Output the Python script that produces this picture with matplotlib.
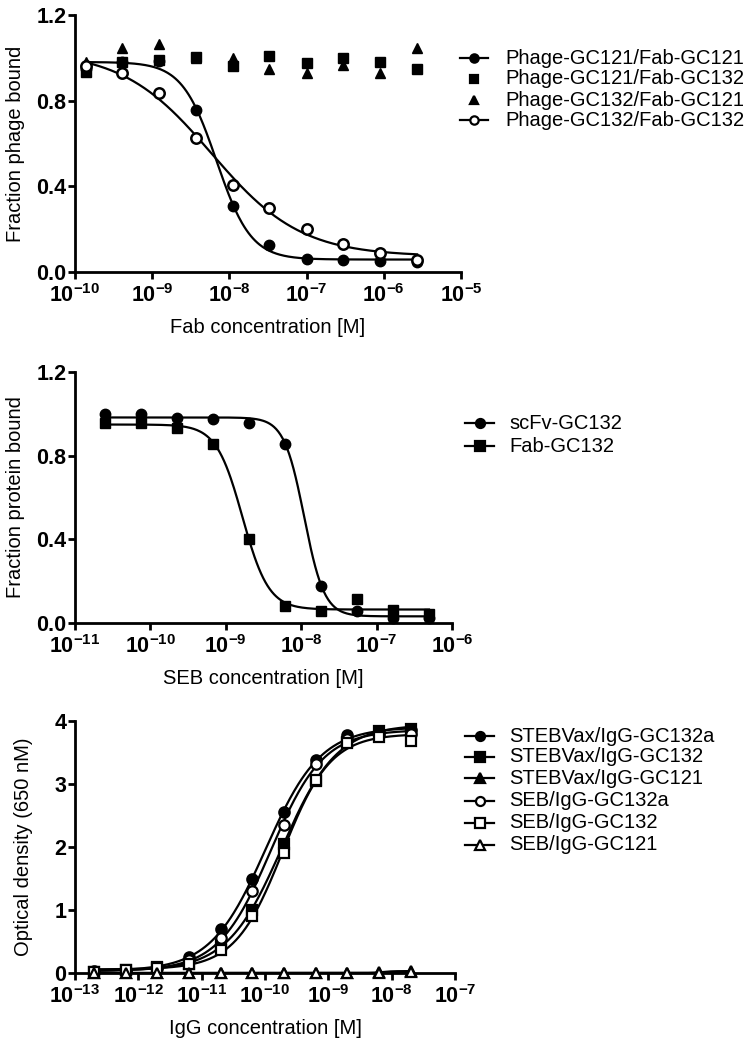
import numpy as np
import matplotlib
matplotlib.use('Agg')
import matplotlib.pyplot as plt
from matplotlib.ticker import FixedLocator, FuncFormatter, NullLocator
from matplotlib.lines import Line2D

plt.rcParams['font.family'] = ['Liberation Sans', 'DejaVu Sans']
plt.rcParams['mathtext.fontset'] = 'custom'
plt.rcParams['mathtext.rm'] = 'Liberation Sans:bold'
plt.rcParams['mathtext.bf'] = 'Liberation Sans:bold'
plt.rcParams['mathtext.default'] = 'regular'

# ---------------- data ----------------
# Panel A: phage competition
fab_conc = [1.37e-10, 4.1e-10, 1.23e-9, 3.7e-9, 1.1e-8, 3.3e-8, 1.0e-7, 3.0e-7, 9.0e-7, 2.7e-6]
p121_f121 = [0.95, 0.98, 0.985, 0.756, 0.31, 0.128, 0.062, 0.055, 0.052, 0.048]
p121_f132 = [0.935, 0.98, 0.99, 1.005, 0.96, 1.01, 0.977, 0.997, 0.98, 0.946]
p132_f121 = [0.98, 1.047, 1.064, 1.0, 1.0, 0.95, 0.93, 0.966, 0.927, 1.047]
p132_f132 = [0.96, 0.927, 0.837, 0.626, 0.405, 0.30, 0.20, 0.132, 0.09, 0.058]
labels_a = ['Phage-GC121/Fab-GC121', 'Phage-GC121/Fab-GC132',
            'Phage-GC132/Fab-GC121', 'Phage-GC132/Fab-GC132']

# Panel B: SEB competition
seb_conc = [2.5e-11, 7.5e-11, 2.26e-10, 6.8e-10, 2.04e-9, 6.1e-9, 1.83e-8, 5.5e-8, 1.65e-7, 4.95e-7]
scfv_gc132 = [0.998, 1.0, 0.98, 0.976, 0.957, 0.858, 0.178, 0.056, 0.024, 0.025]
fab_gc132 = [0.957, 0.958, 0.933, 0.854, 0.40, 0.08, 0.056, 0.115, 0.06, 0.045]
labels_b = ['scFv-GC132', 'Fab-GC132']

# Panel C: ELISA
igg_conc = [2e-13, 6.3e-13, 2e-12, 6.3e-12, 2e-11, 6.3e-11, 2e-10, 6.3e-10, 2e-9, 6.3e-9, 2e-8]
steb_132a = [0.03, 0.05, 0.10, 0.25, 0.70, 1.50, 2.56, 3.38, 3.77, 3.82, 3.85]
steb_132 = [0.02, 0.05, 0.10, 0.15, 0.45, 1.00, 2.05, 3.05, 3.66, 3.84, 3.87]
steb_121 = [0.0, 0.0, 0.0, 0.0, 0.0, 0.0, 0.0, 0.0, 0.0, 0.01, 0.03]
seb_132a = [0.02, 0.05, 0.08, 0.20, 0.55, 1.30, 2.35, 3.32, 3.72, 3.78, 3.80]
seb_132 = [0.02, 0.04, 0.08, 0.15, 0.37, 0.90, 1.91, 3.06, 3.65, 3.75, 3.69]
seb_121 = [0.0, 0.0, 0.0, 0.0, 0.0, 0.0, 0.0, 0.0, 0.0, 0.0, 0.02]
labels_c = ['STEBVax/IgG-GC132a', 'STEBVax/IgG-GC132', 'STEBVax/IgG-GC121',
            'SEB/IgG-GC132a', 'SEB/IgG-GC132', 'SEB/IgG-GC121']


def fit_curve(x, y, npts=300):
    """Least-squares 4-parameter logistic fit (grid over log EC50 and slope)."""
    x = np.asarray(x, float)
    y = np.asarray(y, float)
    lx = np.log10(x)
    cs = np.linspace(lx.min() - 1, lx.max() + 1, 601)[:, None, None]
    hs = np.linspace(0.3, 6.0, 115)[None, :, None]
    f = 1.0 / (1.0 + 10 ** ((lx[None, None, :] - cs) * hs))
    n = len(x)
    Sf = f.sum(-1); Sff = (f * f).sum(-1); Sy = y.sum(); Sfy = (f * y).sum(-1)
    den = n * Sff - Sf ** 2
    den = np.where(np.abs(den) < 1e-12, 1e-12, den)
    b = (n * Sfy - Sf * Sy) / den
    a = (Sy - b * Sf) / n
    res = ((y - a[..., None] - b[..., None] * f) ** 2).sum(-1)
    i, j = np.unravel_index(np.argmin(res), res.shape)
    c, h = cs[i, 0, 0], hs[0, j, 0]
    xs = np.logspace(lx.min(), lx.max(), npts)
    ys = a[i, j] + b[i, j] / (1.0 + 10 ** ((np.log10(xs) - c) * h))
    return xs, ys


W, H = 755, 1047
fig = plt.figure(figsize=(W / 100, H / 100), dpi=100)


def ax_rect(l, r, t, b):
    return [l / W, 1 - b / H, (r - l) / W, (b - t) / H]


TICK_FS = 15.5
LABEL_FS = 14.5
LEG_FS = 14.5
LW = 1.6


def style_axis(ax, xlim, ylim, yticks, yfmt, xlabel, ylabel, ylab_right_px, width_px):
    ax.set_xscale('log')
    ax.set_xlim(*xlim)
    ax.set_ylim(*ylim)
    for s in ['top', 'right']:
        ax.spines[s].set_visible(False)
    for s in ['left', 'bottom']:
        ax.spines[s].set_linewidth(2.0)
    dec = np.arange(round(np.log10(xlim[0])), round(np.log10(xlim[1])) + 1)
    ax.xaxis.set_major_locator(FixedLocator(10.0 ** dec))
    ax.xaxis.set_minor_locator(NullLocator())
    ax.xaxis.set_major_formatter(FuncFormatter(lambda v, p: r'$10^{%d}$' % round(np.log10(v))))
    ax.yaxis.set_major_locator(FixedLocator(yticks))
    ax.yaxis.set_major_formatter(FuncFormatter(lambda v, p: yfmt % v))
    ax.tick_params(axis='both', which='major', direction='out', length=4.8, width=2,
                   labelsize=TICK_FS)
    ax.tick_params(axis='x', pad=4)
    ax.tick_params(axis='y', pad=1.5)
    for lab in ax.get_xticklabels() + ax.get_yticklabels():
        lab.set_fontweight('bold')
    ax.set_xlabel(xlabel, fontsize=LABEL_FS, labelpad=8)
    ax.set_ylabel(ylabel, fontsize=LABEL_FS)
    ax.yaxis.set_label_coords((ylab_right_px - 75) / width_px, 0.5)


def legend_manual(entries, labels, x0, x1, xt, ys):
    """entries: list of (marker, facecolor, with_line, size). Coordinates in pixels."""
    for (mk, mfc, wl, ms), lab, yp in zip(entries, labels, ys):
        yf = 1 - yp / H
        if wl:
            fig.add_artist(Line2D([x0 / W, x1 / W], [yf, yf], color='black', lw=LW,
                                  transform=fig.transFigure))
        fig.add_artist(Line2D([(x0 + x1) / 2 / W], [yf], marker=mk, ms=ms, mfc=mfc,
                              mec='black', mew=1.6, lw=0, transform=fig.transFigure))
        fig.text(xt / W, yf, lab, fontsize=LEG_FS, va='center', ha='left')


# ---------------- Panel A ----------------
axA = fig.add_axes(ax_rect(75, 461, 15, 272))
ms = 7.5
for y in [p121_f121, p132_f132]:
    xs, ys = fit_curve(fab_conc, y)
    axA.plot(xs, ys, color='black', lw=LW, zorder=2)
axA.plot(fab_conc, p121_f121, 'o', ms=ms, mfc='black', mec='black', clip_on=False, zorder=3)
axA.plot(fab_conc, p121_f132, 's', ms=ms, mfc='black', mec='black', clip_on=False, zorder=3)
axA.plot(fab_conc, p132_f121, '^', ms=ms, mfc='black', mec='black', clip_on=False, zorder=3)
axA.plot(fab_conc, p132_f132, 'o', ms=ms, mfc='white', mec='black', mew=1.8, clip_on=False, zorder=4)
style_axis(axA, (1e-10, 1e-5), (0, 1.2), [0, 0.4, 0.8, 1.2], '%.1f',
           'Fab concentration [M]', 'Fraction phage bound', 25, 386)
legend_manual([('o', 'black', True, 6), ('s', 'black', False, 6),
               ('^', 'black', False, 6), ('o', 'white', True, 6)],
              labels_a, 460, 488, 505, [58, 79, 100, 120])

# ---------------- Panel B ----------------
axB = fig.add_axes(ax_rect(75, 452, 372, 623))
for y, mk in [(scfv_gc132, 'o'), (fab_gc132, 's')]:
    xs, ys = fit_curve(seb_conc, y)
    axB.plot(xs, ys, color='black', lw=LW, zorder=2)
    axB.plot(seb_conc, y, mk, ms=ms, mfc='black', mec='black', clip_on=False, zorder=3)
style_axis(axB, (1e-11, 1e-6), (0, 1.2), [0, 0.4, 0.8, 1.2], '%.1f',
           'SEB concentration [M]', 'Fraction protein bound', 25, 377)
legend_manual([('o', 'black', True, 6.5), ('s', 'black', True, 6.5)],
              labels_b, 465, 494, 509, [423, 446])

# ---------------- Panel C ----------------
axC = fig.add_axes(ax_rect(75, 455, 721, 973))
series_c = [(steb_132a, 'o', 'black'), (steb_132, 's', 'black'), (steb_121, '^', 'black'),
            (seb_132a, 'o', 'white'), (seb_132, 's', 'white'), (seb_121, '^', 'white')]
for y, mk, mfc in series_c:
    xs, ys = fit_curve(igg_conc, y)
    axC.plot(xs, ys, color='black', lw=LW, zorder=2)
for y, mk, mfc in series_c:
    axC.plot(igg_conc, y, mk, ms=ms, mfc=mfc, mec='black', mew=1.6, clip_on=False,
             zorder=3 if mfc == 'black' else 4)
style_axis(axC, (1e-13, 1e-7), (0, 4), [0, 1, 2, 3, 4], '%d',
           'IgG concentration [M]', 'Optical density (650 nM)', 33, 380)
legend_manual([(mk, mfc, True, 6.5) for _, mk, mfc in series_c],
              labels_c, 465, 494, 509, [736, 757, 778, 801, 823, 845])

fig.savefig('out.png', dpi=100)
